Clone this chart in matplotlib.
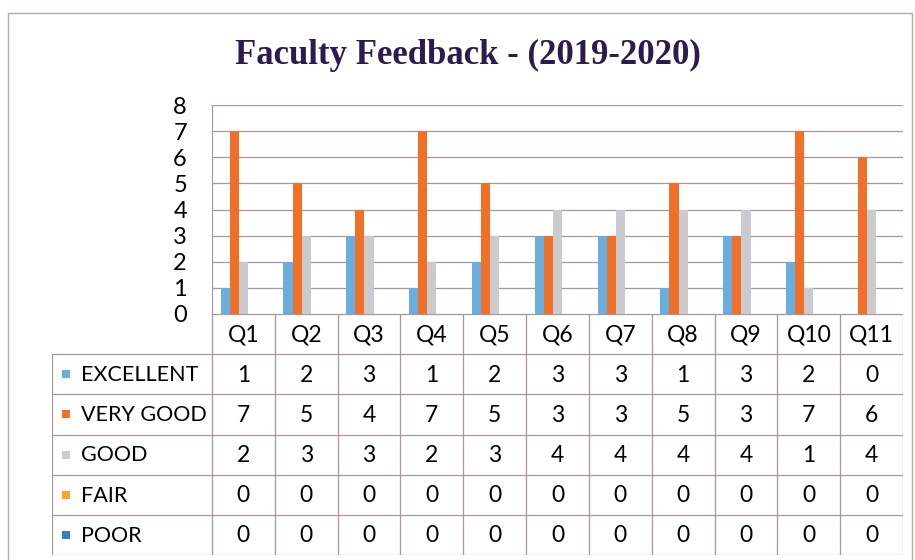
import matplotlib.pyplot as plt
from matplotlib.patches import Rectangle

# ------------------------------------------------------------
# Feedback counts per question

questions = ["Q1", "Q2", "Q3", "Q4", "Q5", "Q6", "Q7", "Q8", "Q9", "Q10", "Q11"]
ratings = ["EXCELLENT", "VERY GOOD", "GOOD", "FAIR", "POOR"]

excellent = [1, 2, 3, 1, 2, 3, 3, 1, 3, 2, 0]
very_good = [7, 5, 4, 7, 5, 3, 3, 5, 3, 7, 6]
good = [2, 3, 3, 2, 3, 4, 4, 4, 4, 1, 4]
fair = [0, 0, 0, 0, 0, 0, 0, 0, 0, 0, 0]
poor = [0, 0, 0, 0, 0, 0, 0, 0, 0, 0, 0]

series = [excellent, very_good, good, fair, poor]
colors = ["#6AAEE0", "#F0702A", "#CACACF", "#F8A72A", "#3C7CC4"]

grid_color = "#a8979a"
text_font = "Lato"
text_size = 15.5
text_color = "#000000"

W, H = 915, 560

def fx(px):
    return px / W

def fy(py):
    return 1 - py / H

fig = plt.figure(figsize=(9.15, 5.6), dpi=100)

# ------------------------------------------------------------
# Chart border and title

frame = fig.add_axes([0, 0, 1, 1])
frame.set_xlim(0, W)
frame.set_ylim(H, 0)
frame.axis("off")
frame.plot([8, 8, 912, 912], [H, 13, 13, H], color="#b8a8aa", lw=1.0)

fig.text(fx(468), fy(55), "Faculty Feedback - (2019-2020)",
         ha="center", va="center", fontsize=25, fontweight="bold",
         family="Liberation Serif", color="#2B1B4E")

# ------------------------------------------------------------
# Clustered bars

x0, x1 = 212, 903
ax = fig.add_axes([fx(x0), fy(314), fx(x1) - fx(x0), fy(105) - fy(314)])
n = len(questions)
bw = 0.145
for i, (vals, c) in enumerate(zip(series, colors)):
    xs = [q + 0.5 + (i - 2) * bw for q in range(n)]
    ax.bar(xs, vals, width=bw, color=c, zorder=3)

ax.set_xlim(0, n)
ax.set_ylim(0, 8)
ax.set_yticks(range(0, 9))
ax.set_xticks([])
ax.yaxis.grid(True, color=grid_color, lw=0.9)
ax.set_axisbelow(True)
for s in ["top", "right", "bottom"]:
    ax.spines[s].set_visible(False)
ax.spines["left"].set_color(grid_color)
ax.tick_params(axis="y", length=0, pad=18, labelsize=17, labelcolor=text_color)
for lbl in ax.get_yticklabels():
    lbl.set_family(text_font)

# ------------------------------------------------------------
# Data table under the bars

col_w = (x1 - x0) / n
left_w = (x0 - 52) / col_w
tab = fig.add_axes([fx(52), fy(555), fx(x1) - fx(52), fy(314) - fy(555)])
tab.set_xlim(-left_w, n)
tab.set_ylim(6, 0)
tab.axis("off")

# horizontal lines
tab.plot([0, n], [0, 0], color=grid_color, lw=0.9)
for r in range(1, 7):
    tab.plot([-left_w, n], [r, r], color=grid_color, lw=0.9)
# vertical lines
tab.plot([-left_w, -left_w], [1, 6], color=grid_color, lw=0.9)
for c in range(0, n + 1):
    tab.plot([c, c], [0, 6], color=grid_color, lw=0.9)

for q, name in enumerate(questions):
    tab.text(q + 0.5, 0.52, name, ha="center", va="center",
             fontsize=text_size + 1, family=text_font, color=text_color)

for r, (name, vals, c) in enumerate(zip(ratings, series, colors)):
    y = r + 1.5
    tab.add_patch(Rectangle((-left_w + 0.16, y - 0.1), 0.13, 0.2,
                            facecolor=c, edgecolor="none"))
    tab.text(-left_w + 0.46, y + 0.02, name, ha="left", va="center",
             fontsize=text_size, family=text_font, color=text_color)
    for q, v in enumerate(vals):
        tab.text(q + 0.5, y + 0.02, str(v), ha="center", va="center",
                 fontsize=text_size + 1, family=text_font, color=text_color)

fig.savefig("out.png", dpi=100)
